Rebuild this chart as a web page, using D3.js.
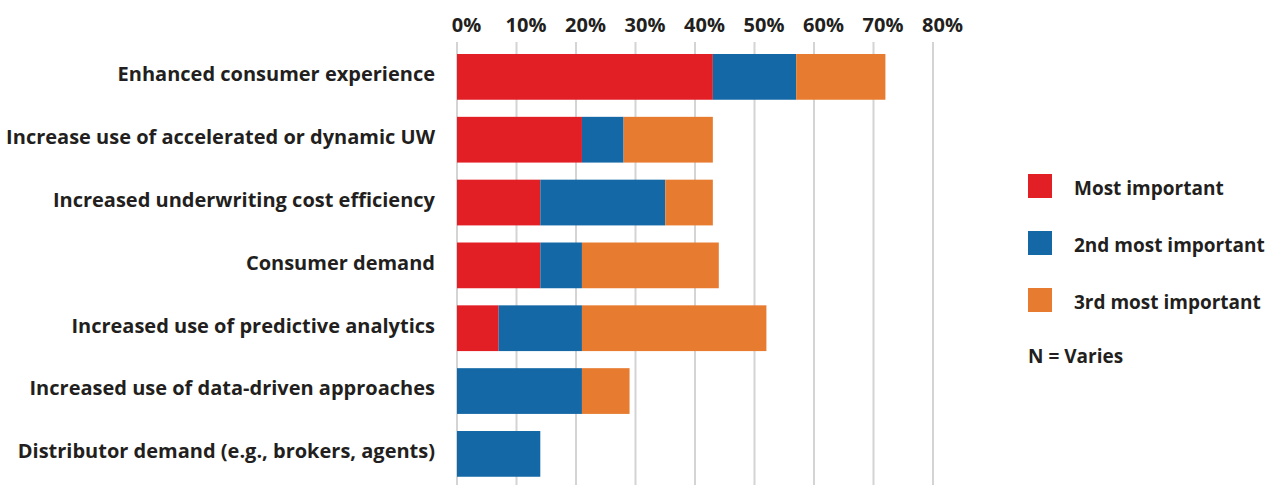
<!DOCTYPE html>
<html>
<head>
<meta charset="utf-8">
<script src="https://cdn.jsdelivr.net/npm/d3@7/dist/d3.min.js"></script>
<style>
  html, body { margin: 0; padding: 0; background: #fff; }
  svg { display: block; }
  text { font-family: "Open Sans", "Noto Sans", sans-serif; font-weight: 700; fill: #231f20; }
</style>
</head>
<body>
<svg id="chart" width="1280" height="485"></svg>
<script>
// Reasons ranked as most / 2nd / 3rd most important (share of respondents)
const categories = [
  "Enhanced consumer experience",
  "Increase use of accelerated or dynamic UW",
  "Increased underwriting cost efficiency",
  "Consumer demand",
  "Increased use of predictive analytics",
  "Increased use of data-driven approaches",
  "Distributor demand (e.g., brokers, agents)"
];
const mostImportant   = [43, 21, 14, 14, 7, 0, 0];
const secondImportant = [14, 7, 21, 7, 14, 21, 14];
const thirdImportant  = [15, 15, 8, 23, 31, 8, 0];
const seriesNames = ["Most important", "2nd most important", "3rd most important"];
const seriesColors = ["#e31f26", "#1468a6", "#e77c30"];
const xTicks = [0, 10, 20, 30, 40, 50, 60, 70, 80];
const note = "N = Varies";

const svg = d3.select("#chart");
const fontStack = '"Open Sans", "Noto Sans", sans-serif';

const x = d3.scaleLinear().domain([0, 80]).range([457, 933]);
const y = d3.scaleBand().domain(categories).range([45.45, 485.3]).paddingInner(0.272).paddingOuter(0.136);

// vertical gridlines
svg.append("g")
  .selectAll("line")
  .data(xTicks)
  .join("line")
  .attr("x1", d => x(d)).attr("x2", d => x(d))
  .attr("y1", 42).attr("y2", 485)
  .attr("stroke", "#d4d4d4").attr("stroke-width", 2);

// top axis labels
const xAxis = d3.axisTop(x).tickValues(xTicks).tickFormat(d => d + "%").tickSize(0).tickPadding(0);
const gx = svg.append("g").attr("transform", "translate(9,31.5)").call(xAxis);
gx.select(".domain").remove();
gx.selectAll("text").attr("font-size", 20).attr("dy", 0)
  .style("font-family", fontStack).style("font-weight", 700).attr("fill", "#231f20");

// stacked bars
const table = categories.map((c, i) => ({
  category: c, s0: mostImportant[i], s1: secondImportant[i], s2: thirdImportant[i]
}));
const stack = d3.stack().keys(["s0", "s1", "s2"])(table);

svg.append("g")
  .selectAll("g")
  .data(stack)
  .join("g")
  .attr("fill", (d, i) => seriesColors[i])
  .selectAll("rect")
  .data(d => d)
  .join("rect")
  .attr("x", d => x(d[0]))
  .attr("y", d => y(d.data.category))
  .attr("width", d => x(d[1]) - x(d[0]))
  .attr("height", y.bandwidth());

// category labels
svg.append("g")
  .selectAll("text")
  .data(categories)
  .join("text")
  .attr("x", 435)
  .attr("y", d => y(d) + y.bandwidth() / 2 + 4.3)
  .attr("text-anchor", "end")
  .attr("font-size", 20)
  .text(d => d);

// legend
const legend = svg.append("g").attr("transform", "translate(1028,174)");
const items = legend.selectAll("g")
  .data(seriesNames)
  .join("g")
  .attr("transform", (d, i) => `translate(0,${i * 57})`);
items.append("rect").attr("width", 24).attr("height", 24).attr("fill", (d, i) => seriesColors[i]);
items.append("text").attr("x", 46).attr("y", 21).attr("font-size", 19).text(d => d);
legend.append("text").attr("x", 0).attr("y", 189).attr("font-size", 19).text(note);
</script>
</body>
</html>
